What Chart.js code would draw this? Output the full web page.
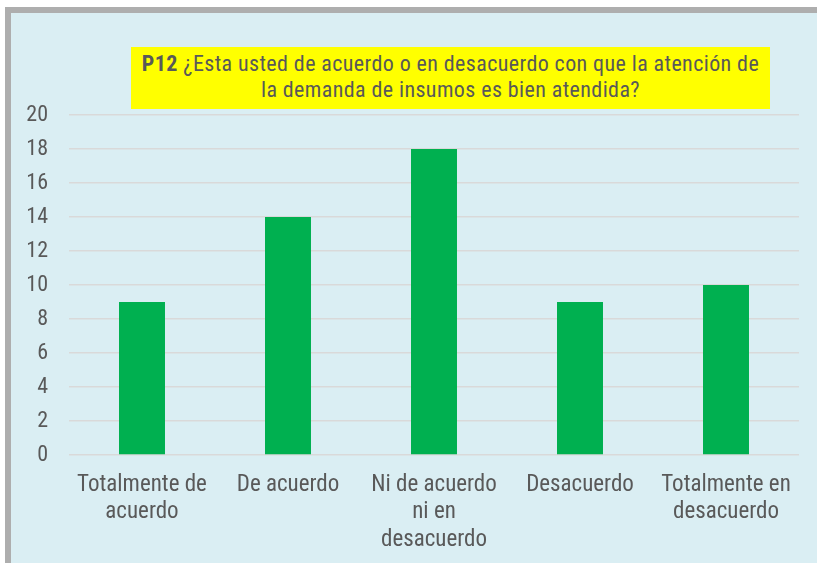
<!DOCTYPE html>
<html>
<head>
<meta charset="utf-8">
<script src="https://cdn.jsdelivr.net/npm/chart.js@4.4.1/dist/chart.umd.min.js"></script>
<style>
  html, body { margin: 0; padding: 0; background: #ffffff; }
  body { width: 817px; height: 563px; position: relative; overflow: hidden; }
  #frame {
    position: absolute; left: 5px; top: 7px; width: 820px; height: 560px;
    background: #DAEEF3; border-left: 6px solid #AEAEAE; border-top: 6px solid #AEAEAE;
  }
  #title {
    position: absolute; left: 131px; top: 47px; width: 639px; height: 58px; padding-top: 4px;
    background: #FFFF00; color: #595959; text-align: center;
    font-family: 'Liberation Sans Narrow', 'Roboto Condensed', 'DejaVu Sans Condensed', sans-serif;
    font-size: 22px; line-height: 26px; letter-spacing: 0.4px; white-space: nowrap;
  }
  #title b { font-weight: bold; }
  #c { position: absolute; left: 0; top: 0; }
</style>
</head>
<body>
<div id="frame"></div>
<canvas id="c" width="817" height="563"></canvas>
<div id="title"><b>P12</b> ¿Esta usted de acuerdo o en desacuerdo con que la atención de<br>la demanda de insumos es bien atendida?</div>
<script>
const categories = [
  ["Totalmente de", "acuerdo"],
  ["De acuerdo"],
  ["Ni de acuerdo", "ni en", "desacuerdo"],
  ["Desacuerdo"],
  ["Totalmente en", "desacuerdo"]
];
const values = [9, 14, 18, 9, 10];
const yTicks = [0, 2, 4, 6, 8, 10, 12, 14, 16, 18, 20];

const FONT = "'Liberation Sans Narrow', 'Roboto Condensed', 'DejaVu Sans Condensed', sans-serif";
const PAD_L = 10, PAD_T = 115, PAD_R = 18, PAD_B = 0;

new Chart(document.getElementById('c'), {
  type: 'bar',
  data: {
    labels: categories,
    datasets: [{
      data: values,
      backgroundColor: '#00B050',
      borderWidth: 0,
      categoryPercentage: 1.0,
      barPercentage: 0.315
    }]
  },
  options: {
    responsive: false,
    animation: false,
    devicePixelRatio: 1,
    layout: { padding: { left: PAD_L, top: PAD_T, right: PAD_R, bottom: PAD_B } },
    plugins: { legend: { display: false }, title: { display: false }, tooltip: { enabled: false } },
    scales: {
      x: {
        grid: { display: false, drawTicks: false },
        border: { display: false },
        ticks: {
          color: '#595959', padding: 16, maxRotation: 0, autoSkip: false,
          font: { family: FONT, size: 23, lineHeight: 1.2 }
        },
        afterFit: (s) => { s.height = 563 - 455 - PAD_B; }
      },
      y: {
        min: 0, max: 20,
        afterBuildTicks: (s) => { s.ticks = yTicks.map(v => ({ value: v })); },
        grid: { color: '#D9D9D9', lineWidth: 1.5, drawTicks: false },
        border: { display: false },
        ticks: {
          color: '#595959', padding: 21,
          font: { family: FONT, size: 22 }
        },
        afterFit: (s) => { s.width = 69 - PAD_L; }
      }
    }
  }
});
</script>
</body>
</html>
